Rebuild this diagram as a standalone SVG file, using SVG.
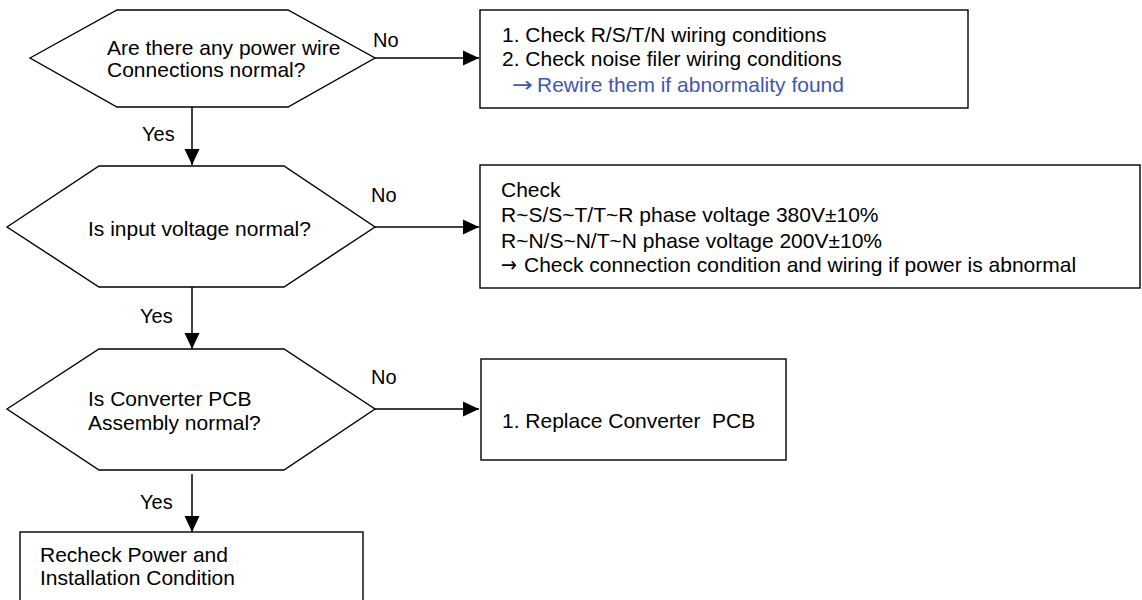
<svg xmlns="http://www.w3.org/2000/svg" width="1142" height="600" viewBox="0 0 1142 600">
<style>
  .shape { fill: #ffffff; stroke: #000000; stroke-width: 1.4; }
  .t { font-family: "Liberation Sans", Arial, sans-serif; font-size: 21px; fill: #000000; }
  .lbl { font-family: "Liberation Sans", Arial, sans-serif; font-size: 20px; fill: #000000; }
  .arr { font-family: "DejaVu Sans", sans-serif; }
  .blue { fill: #3f56b4; }
  .conn { stroke: #000000; stroke-width: 1.5; fill: none; }
</style>
<defs>
  <marker id="arrow" viewBox="0 0 16 16" refX="16" refY="8" markerUnits="userSpaceOnUse" markerWidth="16" markerHeight="16" orient="auto">
    <path d="M0,0.5 L16,8 L0,15.5 Z" fill="#000000"/>
  </marker>
</defs>
<rect width="1142" height="600" fill="#ffffff"/>

<g id="connectors">
  <line class="conn" x1="192" y1="107" x2="192" y2="165" marker-end="url(#arrow)"/>
  <line class="conn" x1="192" y1="287" x2="192" y2="349" marker-end="url(#arrow)"/>
  <line class="conn" x1="192" y1="474" x2="192" y2="532" marker-end="url(#arrow)"/>
  <line class="conn" x1="375" y1="58" x2="479" y2="58" marker-end="url(#arrow)"/>
  <line class="conn" x1="375" y1="227" x2="479" y2="227" marker-end="url(#arrow)"/>
  <line class="conn" x1="375" y1="409" x2="479" y2="409" marker-end="url(#arrow)"/>
  <text class="lbl" x="142" y="141">Yes</text>
  <text class="lbl" x="140" y="323">Yes</text>
  <text class="lbl" x="140" y="509">Yes</text>
  <text class="lbl" x="373" y="47">No</text>
  <text class="lbl" x="371" y="202">No</text>
  <text class="lbl" x="371" y="384">No</text>
</g>

<g id="q1">
  <polygon class="shape" points="30,58 117,10 288,10 375,58 288,107 117,107"/>
  <text class="t" x="107" y="55">Are there any power wire</text>
  <text class="t" x="107" y="77">Connections normal?</text>
</g>

<g id="a1">
  <rect class="shape" x="480" y="10" width="488" height="98"/>
  <text class="t" x="502" y="42">1. Check R/S/T/N wiring conditions</text>
  <text class="t" x="502" y="66">2. Check noise filer wiring conditions</text>
  <text class="t blue" y="92"><tspan class="arr" x="512" textLength="21" lengthAdjust="spacingAndGlyphs">→</tspan><tspan x="537">Rewire them if abnormality found</tspan></text>
</g>

<g id="q2">
  <polygon class="shape" points="7,227 99,166 284,166 375,227 284,287 99,287"/>
  <text class="t" x="88" y="236">Is input voltage normal?</text>
</g>

<g id="a2">
  <rect class="shape" x="480" y="165" width="660" height="123"/>
  <text class="t" x="501" y="197">Check</text>
  <text class="t" x="501" y="222">R~S/S~T/T~R phase voltage 380V±10%</text>
  <text class="t" x="501" y="248">R~N/S~N/T~N phase voltage 200V±10%</text>
  <text class="t" y="272"><tspan class="arr" x="501" textLength="16" lengthAdjust="spacingAndGlyphs">→</tspan><tspan x="524">Check connection condition and wiring if power is abnormal</tspan></text>
</g>

<g id="q3">
  <polygon class="shape" points="7,409 99,349 284,349 375,409 284,470 99,470"/>
  <text class="t" x="88" y="406">Is Converter PCB</text>
  <text class="t" x="88" y="430">Assembly normal?</text>
</g>

<g id="a3">
  <rect class="shape" x="481" y="359" width="305" height="101"/>
  <text class="t" x="502" y="428" xml:space="preserve">1. Replace Converter  PCB</text>
</g>

<g id="end">
  <rect class="shape" x="20" y="532" width="343" height="80"/>
  <text class="t" x="40" y="562">Recheck Power and</text>
  <text class="t" x="40" y="585">Installation Condition</text>
</g>
</svg>
